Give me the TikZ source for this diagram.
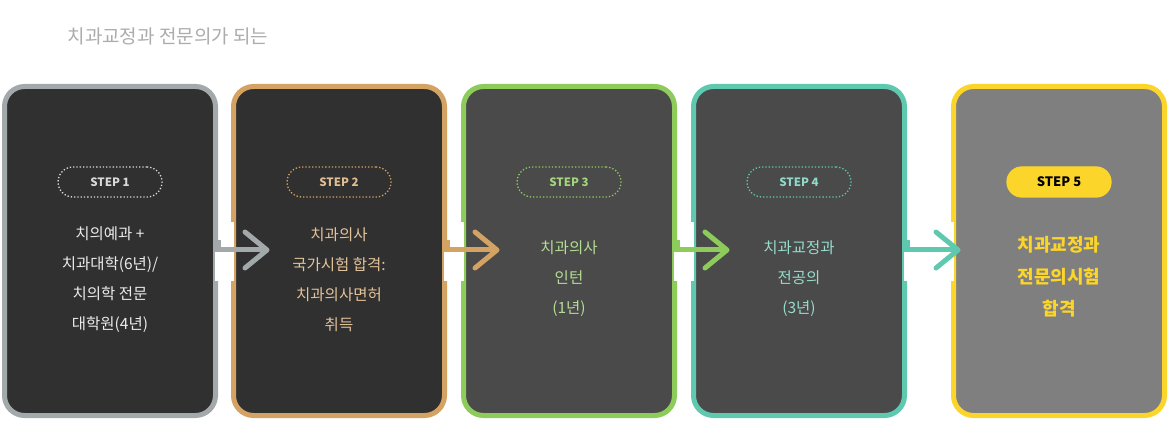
\documentclass[tikz,border=0pt]{standalone}
\usepackage{fontspec}
\setmainfont{Noto Sans CJK KR}
\begin{document}
\begin{tikzpicture}[x=1pt,y=-1pt,
 box/.style={draw,line width=5pt,rounded corners=20pt,minimum width=211pt,minimum height=329pt,inner sep=0pt},
 pill/.style={draw,dotted,line width=1.3pt,rounded corners=15pt,minimum width=104pt,minimum height=30pt,font=\bfseries\fontsize{11.5pt}{11pt}\selectfont},
 txt/.style={align=center,font=\fontsize{15.5pt}{30pt}\selectfont},
 arr/.style={line width=5pt,line cap=round,line join=round}]
\definecolor{cg}{HTML}{A3A9AB}\definecolor{ct}{HTML}{D4A262}
\definecolor{cgr}{HTML}{8DCB5B}\definecolor{cte}{HTML}{5FC9B0}\definecolor{cy}{HTML}{FCD52B}
\definecolor{dk}{HTML}{303030}\definecolor{md}{HTML}{4A4A4A}\definecolor{lt}{HTML}{7F7F7F}
\useasboundingbox[fill=white] (0,0) rectangle (1170,422);
\node[font=\fontsize{19pt}{19pt}\selectfont,text=gray!65,anchor=west] (title) at (64,36) {치과교정과 전문의가 되는};
\node[box,draw=cg,fill=dk] (b1) at (110,251) {};
\node[box,draw=ct,fill=dk] (b2) at (339,251) {};
\node[box,draw=cgr,fill=md] (b3) at (569,251) {};
\node[box,draw=cte,fill=md] (b4) at (799,251) {};
\node[box,draw=cy,fill=lt] (b5) at (1059,251) {};
% gaps and arrows
\foreach \p/\n/\c/\t in {b1/b2/cg/36,b2/b3/ct/36,b3/b4/cgr/36,b4/b5/cte/7}{
 \fill[white] ([xshift=-2.6pt]\p.east|-0,252.5) rectangle ([xshift=2.6pt]\p.east|-0,281);
 \fill[white] ([xshift=-2.6pt]\n.west|-0,222) rectangle ([xshift=2.6pt]\n.west|-0,281);
 \draw[\c,line width=5pt] (\p.east|-0,240) -- (\p.east|-0,250) -- ([xshift=\t pt]\n.west|-0,250);
 \draw[arr,\c] ([xshift=\t pt-22pt]\n.west|-0,232) -- ([xshift=\t pt]\n.west|-0,250) -- ([xshift=\t pt-22pt]\n.west|-0,268);
}
\node[pill,draw=white!85!black,text=white!85!black] (s1) at (110,182) {STEP 1};
\node[pill,draw=ct,text=ct!70!white] (s2) at (339,182) {STEP 2};
\node[pill,draw=cgr,text=cgr!80!white] (s3) at (569,182) {STEP 3};
\node[pill,draw=cte,text=cte!70!white] (s4) at (799,182) {STEP 4};
\node[pill,solid,draw=cy,fill=cy,text=black,font=\bfseries\fontsize{13pt}{13pt}\selectfont] (s5) at (1059,182) {STEP 5};
\node[txt,text=white!92!black] (t1) at (110,280) {치의예과 +\\치과대학(6년)/\\치의학 전문\\대학원(4년)};
\node[txt,text=ct!65!white] (t2) at (339,280) {치과의사\\국가시험 합격:\\치과의사면허\\취득};
\node[txt,text=cgr!65!white] (t3) at (569,279) {치과의사\\인턴\\(1년)};
\node[txt,text=cte!65!white] (t4) at (799,279) {치과교정과\\전공의\\(3년)};
\node[txt,text=cy,font=\bfseries\fontsize{18pt}{32pt}\selectfont] (t5) at (1059,277) {치과교정과\\전문의시험\\합격};
\end{tikzpicture}
\end{document}
